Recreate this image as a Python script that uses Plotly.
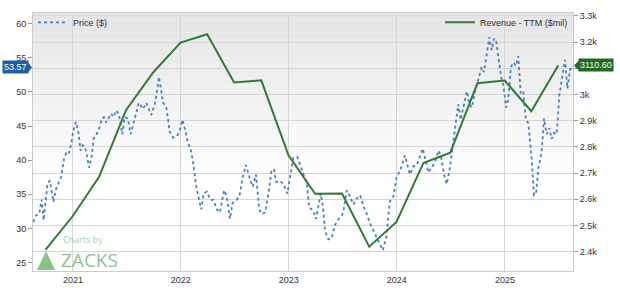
import pandas as pd
import plotly.graph_objects as go

# ---------------- data ----------------
start_date = "2020-08-19"
end_date = "2025-08-19"

# price samples: day offset from start_date, close price ($)
price_day = [1, 10, 21, 29, 36, 42, 49, 57, 69, 78, 86, 95, 105, 112, 120, 128,
             136, 145, 154, 161, 168, 176, 184, 190, 199, 205, 213, 225, 233, 240,
             247, 255, 264, 272, 282, 291, 302, 310, 321, 330, 344, 358, 372, 383,
             400, 415, 426, 440, 451, 462, 473, 485, 496, 505, 516, 524, 532, 541,
             552, 564, 569, 577, 588, 600, 610, 621, 632, 646, 655, 666, 675, 689,
             698, 709, 720, 732, 743, 754, 765, 773, 785, 796, 802, 807, 815, 822,
             835, 847, 860, 872, 880, 894, 903, 914, 926, 934, 948, 957, 965, 973,
             980, 988, 999, 1010, 1021, 1033, 1044, 1049, 1061, 1072, 1083, 1095,
             1106, 1117, 1129, 1140, 1153, 1168, 1183, 1194, 1207, 1219, 1230, 1241,
             1252, 1258, 1266, 1275, 1286, 1298, 1306, 1318, 1326, 1337, 1348, 1360,
             1371, 1379, 1390, 1399, 1408, 1419, 1427, 1438, 1446, 1455, 1467, 1476,
             1484, 1495, 1503, 1512, 1517, 1525, 1534, 1543, 1551, 1559, 1566, 1574,
             1583, 1591, 1600, 1607, 1616, 1624, 1633, 1641, 1649, 1658, 1667, 1675,
             1687, 1694, 1701, 1709, 1720, 1728, 1737, 1746, 1754, 1762, 1771, 1780,
             1791, 1799, 1807, 1816, 1826]
price_values = [30.95, 31.9, 32.1, 34.2, 31.2, 33.7, 36.6, 37.0, 33.9, 35.8, 36.6, 37.5,
                40.2, 41.0, 40.8, 42.1, 44.2, 45.6, 44.0, 41.4, 42.2, 41.9, 40.3, 38.9,
                40.7, 43.2, 43.6, 44.8, 46.1, 46.3, 45.5, 46.2, 46.8, 46.3, 47.3, 46.6,
                43.8, 46.3, 46.1, 43.8, 46.3, 48.4, 47.5, 48.4, 46.6, 48.7, 52.2, 48.4,
                47.7, 44.2, 43.3, 43.5, 44.2, 45.9, 44.2, 42.4, 41.9, 39.8, 36.1, 33.75,
                32.8, 35.1, 35.4, 34.2, 34.2, 32.8, 32.35, 35.6, 34.7, 31.4, 33.75, 34.2,
                34.7, 37.5, 39.3, 37.5, 36.1, 37.9, 32.8, 32.1, 32.35, 35.1, 37.5, 38.6,
                38.6, 36.8, 37.0, 36.5, 35.1, 38.4, 40.3, 40.5, 39.3, 37.9, 36.5, 33.05,
                32.6, 31.4, 33.3, 35.1, 33.3, 29.55, 28.4, 28.6, 30.5, 31.4, 31.9, 32.35,
                35.6, 34.7, 33.5, 34.4, 34.9, 33.3, 32.1, 30.7, 29.55, 28.1, 26.8, 28.6,
                34.0, 34.7, 37.7, 38.4, 39.8, 40.7, 39.3, 37.9, 39.1, 39.3, 40.3, 41.7,
                40.3, 38.2, 38.9, 39.8, 41.4, 40.7, 37.9, 36.5, 38.4, 42.1, 44.9, 48.2,
                45.9, 47.7, 50.1, 48.2, 47.7, 50.1, 51.5, 53.1, 53.6, 52.9, 55.2, 58.0,
                56.1, 57.8, 57.5, 55.2, 52.2, 50.8, 47.7, 48.9, 53.6, 54.3, 53.8, 55.2,
                49.8, 50.1, 45.9, 45.4, 39.8, 34.9, 35.1, 38.9, 41.2, 46.1, 43.8, 44.7,
                43.1, 44.0, 43.8, 49.6, 52.9, 54.7, 50.5, 53.3, 53.57]

revenue_dates = ["2020-09-30", "2020-12-31", "2021-03-31", "2021-06-30", "2021-09-30",
                 "2021-12-31", "2022-03-31", "2022-06-30", "2022-09-30", "2022-12-31",
                 "2023-03-31", "2023-06-30", "2023-09-30", "2023-12-31", "2024-03-31",
                 "2024-06-30", "2024-09-30", "2024-12-31", "2025-03-31", "2025-06-30"]
revenue_values = [2407, 2535, 2687, 2941, 3085, 3198, 3230, 3046, 3054, 2768,
                  2621, 2622, 2419, 2513, 2738, 2778, 3043, 3053, 2936, 3110.60]

year_ticks = ["2021-01-01", "2022-01-01", "2023-01-01", "2024-01-01", "2025-01-01"]
year_labels = ["2021", "2022", "2023", "2024", "2025"]
price_ticks = [25, 30, 35, 40, 45, 50, 55, 60]
rev_ticks = [2400, 2500, 2600, 2700, 2800, 2900, 3000, 3100, 3200, 3300]
rev_tick_labels = ["2.4k", "2.5k", "2.6k", "2.7k", "2.8k", "2.9k", "3k", "", "3.2k", "3.3k"]

# ---------------- figure ----------------
price_dates = pd.Timestamp(start_date) + pd.to_timedelta(price_day, unit="D")

FONT = "Liberation Sans, Arial, sans-serif"
fig = go.Figure()

fig.add_trace(go.Scatter(
    x=price_dates, y=price_values, mode="lines", name="Price ($)", showlegend=True,
    line=dict(color="#4581c4", width=1.8, dash="dot"), yaxis="y", legend="legend"))
fig.add_trace(go.Scatter(
    x=pd.to_datetime(revenue_dates), y=revenue_values, mode="lines", showlegend=True,
    name="Revenue - TTM ($mil)", line=dict(color="#2f7d32", width=2),
    yaxis="y2", legend="legend2"))

# gradient plot background
shapes = []
n = 40
for i in range(n):
    t = (i + 0.5) / n  # 0 top -> 1 bottom
    g = int(round(228 + 27 * min(1.0, t / 0.65)))
    shapes.append(dict(type="rect", xref="paper", yref="paper",
                       x0=0, x1=1, y0=1 - (i + 1) / n, y1=1 - i / n,
                       fillcolor=f"rgb({g},{g},{g})", line=dict(width=0), layer="below"))

last_price = price_values[-1]
last_rev = revenue_values[-1]
# badge arrows
shapes.append(dict(type="path", xref="paper", yref="y", xsizemode="pixel", ysizemode="pixel",
                   xanchor=0, yanchor=last_price, path="M -5 5 L -1 0 L -5 -5 Z",
                   fillcolor="#1f5fa8", line=dict(width=0)))
shapes.append(dict(type="path", xref="paper", yref="y2", xsizemode="pixel", ysizemode="pixel",
                   xanchor=1, yanchor=last_rev, path="M 6 5 L 1 0 L 6 -5 Z",
                   fillcolor="#1e6b25", line=dict(width=0)))
# zacks logo triangle
shapes.append(dict(type="path", xref="paper", yref="paper", xsizemode="pixel", ysizemode="pixel",
                   xanchor=0, yanchor=0, path="M 4 1 L 22 1 L 13 20 Z",
                   fillcolor="rgba(95,175,95,0.75)", line=dict(width=0)))

annotations = [
    dict(xref="paper", yref="y", x=0, y=last_price, xanchor="right", yanchor="middle",
         xshift=-4, text=f"{last_price:.2f}", showarrow=False, bgcolor="#1f5fa8",
         font=dict(color="white", size=9, family=FONT), borderpad=1),
    dict(xref="paper", yref="y2", x=1, y=last_rev, xanchor="left", yanchor="middle",
         xshift=5, text=f"{last_rev:.2f}", showarrow=False, bgcolor="#1e6b25",
         font=dict(color="#eaffea", size=9, family=FONT), borderpad=1),
    dict(xref="paper", yref="paper", x=0.054, y=0, xanchor="left", yanchor="bottom",
         yshift=24, text="Charts by", showarrow=False, borderpad=0,
         font=dict(color="rgba(95,170,95,0.6)", size=9, family="Open Sans, sans-serif")),
    dict(xref="paper", yref="paper", x=0.05, y=0, xanchor="left", yanchor="bottom",
         yshift=-3, text="ZACKS", showarrow=False, borderpad=0,
         font=dict(color="rgba(85,165,85,0.7)", size=19, family="Open Sans, sans-serif")),
]

fig.update_layout(
    width=620, height=293,
    margin=dict(l=33, r=47, t=8, b=15),
    paper_bgcolor="white", plot_bgcolor="white",
    font=dict(family=FONT, size=9, color="#333333"),
    showlegend=True,
    shapes=shapes, annotations=annotations,
    legend=dict(x=0, y=1.02, xanchor="left", yanchor="top", bgcolor="rgba(0,0,0,0)",
                font=dict(size=9, color="#333"), itemwidth=30),
    legend2=dict(x=1, y=1.02, xanchor="right", yanchor="top", bgcolor="rgba(0,0,0,0)",
                 font=dict(size=9, color="#333"), itemwidth=30),
    xaxis=dict(type="date", range=[start_date, end_date], tickvals=year_ticks,
               ticktext=year_labels, showgrid=True, gridcolor="#d6d6d6", gridwidth=1,
               showline=True, linecolor="#cccccc", mirror=True, ticks="", zeroline=False,
               tickfont=dict(size=9, color="#333")),
    yaxis=dict(range=[23.78, 61.54], tickvals=price_ticks, showgrid=False, zeroline=False,
               ticks="outside", ticklen=4, tickcolor="#999999", showline=True,
               linecolor="#cccccc", mirror=True, tickfont=dict(size=9, color="#333")),
    yaxis2=dict(range=[2326, 3311], tickvals=rev_ticks, ticktext=rev_tick_labels,
                overlaying="y", side="right", showgrid=True, gridcolor="#d6d6d6",
                zeroline=False, ticks="outside", ticklen=4, tickcolor="#999999",
                tickfont=dict(size=9, color="#333")),
)

fig.write_html("out.html")
